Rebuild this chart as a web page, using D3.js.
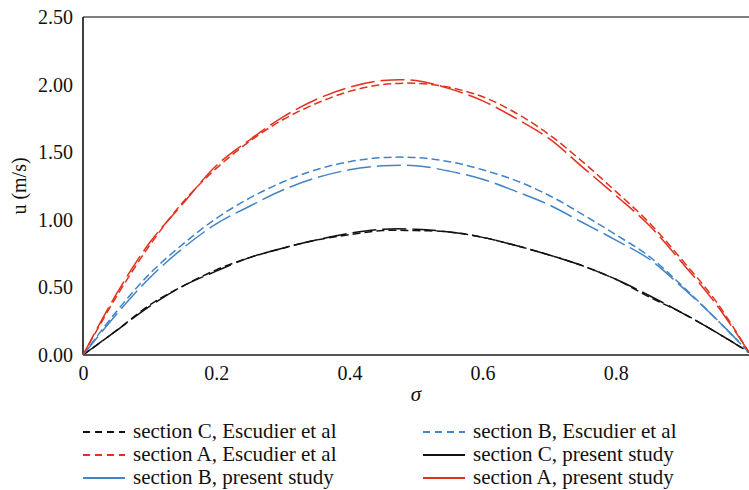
<!DOCTYPE html>
<html>
<head>
<meta charset="utf-8">
<script src="https://cdn.jsdelivr.net/npm/d3@7"></script>
</head>
<body style="margin:0">
<script>
// sigma positions across the section
const sigma = [0, 0.05, 0.1, 0.15, 0.2, 0.25, 0.3, 0.35, 0.4, 0.45, 0.5, 0.55, 0.6, 0.65, 0.7, 0.75, 0.8, 0.85, 0.9, 0.95, 1.0];

// velocity profiles u (m/s)
const sectionA_escudier = [0, 0.43, 0.81, 1.13, 1.38, 1.58, 1.74, 1.86, 1.95, 2.00, 2.01, 1.98, 1.91, 1.79, 1.63, 1.43, 1.21, 0.98, 0.70, 0.40, 0.02];
const sectionA_present  = [0, 0.45, 0.83, 1.12, 1.40, 1.59, 1.76, 1.89, 1.98, 2.03, 2.03, 1.97, 1.88, 1.75, 1.60, 1.39, 1.18, 0.96, 0.68, 0.38, 0.02];
const sectionB_escudier = [0, 0.32, 0.60, 0.82, 1.01, 1.16, 1.28, 1.37, 1.43, 1.46, 1.46, 1.43, 1.37, 1.29, 1.18, 1.04, 0.89, 0.73, 0.51, 0.27, 0.02];
const sectionB_present  = [0, 0.30, 0.57, 0.79, 0.97, 1.10, 1.22, 1.31, 1.37, 1.40, 1.40, 1.36, 1.30, 1.21, 1.11, 0.98, 0.85, 0.71, 0.50, 0.27, 0.02];
const sectionC_escudier = [0, 0.18, 0.37, 0.51, 0.63, 0.72, 0.79, 0.85, 0.89, 0.92, 0.92, 0.91, 0.87, 0.81, 0.74, 0.66, 0.56, 0.43, 0.31, 0.17, 0.02];
const sectionC_present  = [0, 0.18, 0.36, 0.51, 0.62, 0.72, 0.79, 0.85, 0.90, 0.93, 0.93, 0.91, 0.87, 0.81, 0.74, 0.66, 0.56, 0.44, 0.31, 0.17, 0.02];

const xTicks = [0, 0.2, 0.4, 0.6, 0.8];
const yTicks = [0, 0.5, 1.0, 1.5, 2.0, 2.5];

const RED = "#e2311f", BLUE = "#4383c6", BLACK = "#111";
const SHORT = "8,4", LONG = "24,6";

// draw order: present study first, then Escudier on top
const series = [
  { name: "section C, present study",  values: sectionC_present,  color: BLACK, dash: LONG },
  { name: "section B, present study",  values: sectionB_present,  color: BLUE,  dash: LONG },
  { name: "section A, present study",  values: sectionA_present,  color: RED,   dash: LONG },
  { name: "section C, Escudier et al", values: sectionC_escudier, color: BLACK, dash: SHORT },
  { name: "section B, Escudier et al", values: sectionB_escudier, color: BLUE,  dash: SHORT },
  { name: "section A, Escudier et al", values: sectionA_escudier, color: RED,   dash: SHORT }
];

const legendLeft  = ["section C, Escudier et al", "section A, Escudier et al", "section B, present study"];
const legendRight = ["section B, Escudier et al", "section C, present study", "section A, present study"];

const width = 749, height = 490;
const margin = { top: 17, left: 83, right: 0, bottom: 135 };

const svg = d3.select("body").append("svg")
  .attr("width", width)
  .attr("height", height)
  .attr("font-family", "Times New Roman");

// every label in the serif face
function serif(sel, size) {
  return sel.style("font-family", "\"Times New Roman\"").style("font-size", size + "px").attr("fill", "#111");
}

const x = d3.scaleLinear().domain([0, 1]).range([margin.left, width - margin.right]);
const y = d3.scaleLinear().domain([0, 2.5]).range([height - margin.bottom, margin.top]);

// frame: top and left in black
svg.append("line")
  .attr("x1", x(0)).attr("x2", width)
  .attr("y1", y(2.5)).attr("y2", y(2.5))
  .attr("stroke", "#000").attr("stroke-width", 1.2);
svg.append("line")
  .attr("x1", x(0)).attr("x2", x(0))
  .attr("y1", y(2.5)).attr("y2", y(0))
  .attr("stroke", "#000").attr("stroke-width", 1.5);

const line = d3.line()
  .x((d, i) => x(sigma[i]))
  .y(d => y(d))
  .curve(d3.curveCatmullRom.alpha(0.5));

svg.append("g").selectAll("path")
  .data(series)
  .enter()
  .append("path")
  .attr("d", d => line(d.values))
  .attr("fill", "none")
  .attr("stroke", d => d.color)
  .attr("stroke-width", 1.5)
  .attr("stroke-dasharray", d => d.dash);

// bottom axis
const xAxis = svg.append("g")
  .attr("transform", `translate(0,${y(0)})`)
  .call(d3.axisBottom(x).tickValues(xTicks).tickSize(0).tickPadding(11)
    .tickFormat(d => d === 0 ? "0" : d3.format(".1f")(d)))
  .attr("font-family", "Times New Roman")
  .attr("font-size", 20);
xAxis.select(".domain").attr("stroke", "#555").attr("stroke-width", 2.2)
  .attr("d", `M${x(0)},0H${width}`);
serif(xAxis.selectAll("text"), 20);

// left axis
const yAxis = svg.append("g")
  .attr("transform", `translate(${x(0)},0)`)
  .call(d3.axisLeft(y).tickValues(yTicks).tickSize(0).tickPadding(10).tickFormat(d3.format(".2f")))
  .attr("font-family", "Times New Roman")
  .attr("font-size", 20);
yAxis.select(".domain").remove();
serif(yAxis.selectAll("text"), 20);

// axis titles
serif(svg.append("text"), 20)
  .attr("transform", `translate(26,${(y(0) + y(2.5)) / 2}) rotate(-90)`)
  .attr("text-anchor", "middle")
  .text("u (m/s)");

serif(svg.append("text"), 21)
  .attr("x", (x(0) + width) / 2)
  .attr("y", 401)
  .attr("text-anchor", "middle")
  .style("font-style", "italic")
  .text("σ");

// legend, two columns of three
const byName = {};
series.forEach(s => byName[s.name] = s);

function legendColumn(names, x0) {
  const g = svg.append("g").attr("transform", `translate(${x0},0)`);
  names.forEach((n, i) => {
    const s = byName[n];
    const yy = 432 + i * 23;
    g.append("line")
      .attr("x1", 0).attr("x2", 42)
      .attr("y1", yy).attr("y2", yy)
      .attr("stroke", s.color)
      .attr("stroke-width", 2)
      .attr("stroke-dasharray", s.dash === SHORT ? "7,5" : null);
    serif(g.append("text"), 21)
      .attr("x", 50)
      .attr("y", yy + 6)
      .text(n);
  });
}
legendColumn(legendLeft, 83);
legendColumn(legendRight, 423);
</script>
</body>
</html>
